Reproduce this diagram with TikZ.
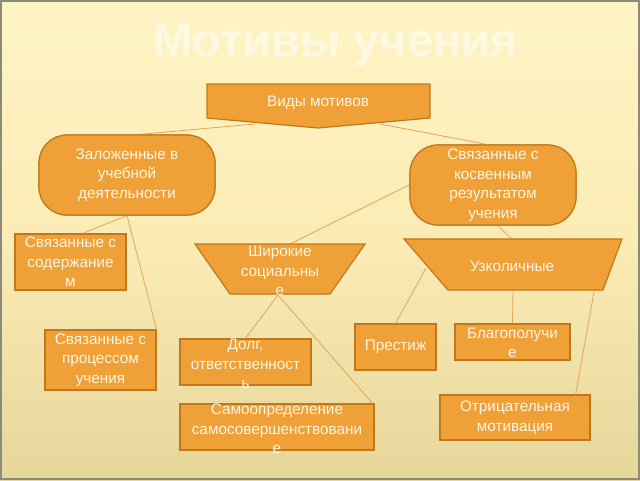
\documentclass[tikz,border=0pt]{standalone}
\usepackage{fontspec}
\setmainfont{Liberation Sans}
\usetikzlibrary{calc}
\definecolor{boxfill}{HTML}{EFA036}
\definecolor{boxline}{HTML}{C0781E}
\definecolor{boxtext}{HTML}{FFF6E4}
\definecolor{linkc}{HTML}{E3A458}
\definecolor{bgtop}{HTML}{FFF4C6}
\definecolor{bgmid}{HTML}{FBECB4}
\definecolor{bgbot}{HTML}{E6D69A}
\definecolor{framec}{HTML}{8C8A78}
\begin{document}
\begin{tikzpicture}[x=1pt,y=-1pt,
  txt/.style={text=boxtext, align=center, font=\fontsize{15.3}{19.5}\selectfont, inner sep=0pt},
  box/.style={txt, draw=boxline, fill=boxfill, line width=1.2pt},
  shapefill/.style={draw=boxline, fill=boxfill, line width=1.2pt},
  link/.style={draw=linkc, line width=0.8pt}]
% background
\shade[top color=bgtop, bottom color=bgbot, middle color=bgmid] (0,0) rectangle (640,480);
\useasboundingbox (0,0) rectangle (640,480);
\draw[framec, line width=1.6pt] (0.8,0.8) rectangle (639.2,479.2);
% title
\node[text=white, opacity=0.5, font=\fontsize{47}{47}\bfseries\selectfont] (title) at (335.5,45) {Мотивы учения};
% connector end points
\coordinate (v1) at (255,124); \coordinate (z1) at (133,135);
\coordinate (v2) at (380,124); \coordinate (k1) at (490,145);
\coordinate (k2) at (409,185); \coordinate (w1) at (290,244);
\coordinate (k3) at (497,225); \coordinate (u1) at (512,239);
\coordinate (w2) at (278,295);
\coordinate (u2) at (426,268); \coordinate (u3) at (513,290); \coordinate (u4) at (598,270);
% nodes: rectangles
\node[box, rounded corners=28pt, minimum width=176pt, minimum height=80pt] (zal) at (127,175) {Заложенные в\\учебной\\деятельности};
\node[box, rounded corners=28pt, minimum width=166pt, minimum height=80pt] (kos) at (493,185) {Связанные с\\косвенным\\результатом\\учения};
\node[box, minimum width=111pt, minimum height=56pt] (sod) at (70.5,262) {Связанные с\\содержание\\м};
\node[box, minimum width=111pt, minimum height=60pt] (proc) at (100.5,360) {Связанные с\\процессом\\учения};
\node[box, minimum width=131pt, minimum height=46pt] (dolg) at (245.5,362) {};
\node[txt] (dolgt) at (245.5,364) {Долг,\\ответственност\\ь};
\node[box, minimum width=194pt, minimum height=46pt] (samo) at (277,427) {};
\node[txt] (samot) at (277,429) {Самоопределение\\самосовершенствовани\\е};
\node[box, minimum width=81pt, minimum height=46pt] (prest) at (395.5,347) {Престиж};
\node[box, minimum width=115pt, minimum height=36pt] (blago) at (512.5,342) {};
\node[txt] (blagot) at (512.5,343) {Благополучи\\е};
\node[box, minimum width=150pt, minimum height=45pt] (otr) at (515,417.5) {Отрицательная\\мотивация};
% connectors
\draw[link] (v1) -- (z1);
\draw[link] (v2) -- (k1);
\draw[link] (zal.south) -- ($(sod.north)+(12,0)$);
\draw[link] (zal.south) -- (proc.north east);
\draw[link] (k2) -- (w1);
\draw[link] (k3) -- (u1);
\draw[link] (w2) -- (dolg.north);
\draw[link] (w2) -- ($(samo.north east)+(-2,0)$);
\draw[link] (u2) -- (prest.north);
\draw[link] (u3) -- (blago.north);
\draw[link] (u4) -- ($(otr.north east)+(-15,0)$);
% redraw boxes over connector ends
\node[box, rounded corners=28pt, minimum width=176pt, minimum height=80pt] at (127,175) {Заложенные в\\учебной\\деятельности};
\node[box, rounded corners=28pt, minimum width=166pt, minimum height=80pt] at (493,185) {Связанные с\\косвенным\\результатом\\учения};
% top pentagon
\draw[shapefill] (207,84) -- (430,84) -- (430,118) -- (318,128) -- (207,118) -- cycle;
\node[txt] (vid) at (318,103) {Виды мотивов};
% trapezoids
\draw[shapefill] (195,244) -- (365,244) -- (330,294) -- (230,294) -- cycle;
\node[txt] (wide) at (280,271) {Широкие\\социальны\\е};
\draw[shapefill] (404,239) -- (622,239) -- (603,290) -- (448,290) -- cycle;
\node[txt] (uzk) at (512,266) {Узколичные};
\end{tikzpicture}
\end{document}
